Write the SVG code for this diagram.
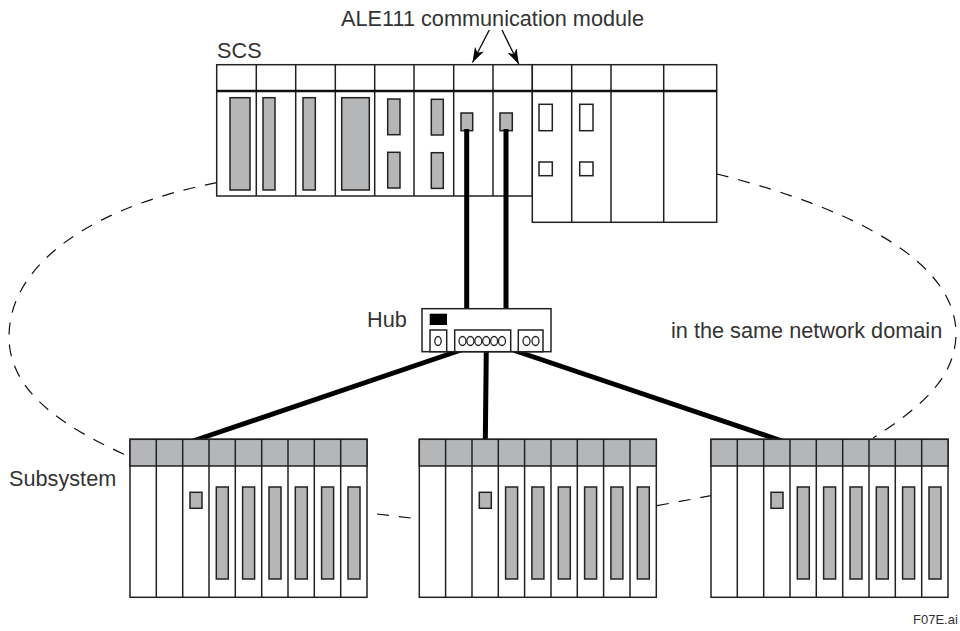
<svg xmlns="http://www.w3.org/2000/svg" xmlns:xlink="http://www.w3.org/1999/xlink" width="960" height="631" viewBox="0 0 960 631">
<style>
text{font-family:"Liberation Sans",Arial,sans-serif;font-size:21.7px;fill:#333}
.s{fill:#fff;stroke:#222;stroke-width:1.5}
.g{fill:#b5b6b8;stroke:#222;stroke-width:1.5}
.l{fill:none;stroke:#222;stroke-width:1.5}
.c{fill:none;stroke:#000;stroke-width:5}
.d{fill:none;stroke:#111;stroke-width:1.2;stroke-dasharray:12 10}
.a{fill:none;stroke:#111;stroke-width:1.4;marker-end:url(#arrow)}
.o{fill:none;stroke:#222;stroke-width:1.3}
</style>
<defs>
<marker id="arrow" markerUnits="userSpaceOnUse" markerWidth="16" markerHeight="12" refX="15" refY="6" orient="auto">
<path d="M0 1L15 6L0 11L4 6Z" fill="#000"/>
</marker>
<g id="rack">
<rect class="s" x="0" y="0" width="237" height="158"/>
<rect class="g" x="0" y="0" width="237" height="26.7"/>
<path class="l" d="M26.3 0V158M52.7 0V158M79 0V158M105.3 0V158M131.7 0V158M158 0V158M184.3 0V158M210.7 0V158"/>
<rect class="g" x="60" y="53" width="12" height="16"/>
<rect class="g" x="86.3" y="47.7" width="12" height="92"/>
<rect class="g" x="112.6" y="47.7" width="12" height="92"/>
<rect class="g" x="139" y="47.7" width="12" height="92"/>
<rect class="g" x="165.3" y="47.7" width="12" height="92"/>
<rect class="g" x="191.6" y="47.7" width="12" height="92"/>
<rect class="g" x="218" y="47.7" width="12" height="92"/>
</g>
</defs>
<rect width="960" height="631" fill="#fff"/>
<g id="scs">
<rect class="s" x="216.7" y="64.7" width="315.6" height="131.3"/>
<rect class="s" x="532.3" y="64.7" width="184.4" height="157.6"/>
<path class="l" d="M256.3 64.7V196M295.7 64.7V196M335.3 64.7V196M374.7 64.7V196M414 64.7V196M453.7 64.7V196M493 64.7V196M571.7 64.7V222.3M611 64.7V222.3M663.7 64.7V222.3"/>
<path fill="none" stroke="#111" stroke-width="2.4" d="M216.7 91H717"/>
<rect class="g" x="230" y="97.7" width="20" height="92.3"/>
<rect class="g" x="263" y="97.7" width="12" height="92.3"/>
<rect class="g" x="303" y="97.7" width="12.3" height="92.3"/>
<rect class="g" x="341.7" y="97.7" width="27.6" height="92.3"/>
<rect class="g" x="387.7" y="99" width="12.3" height="35.7"/>
<rect class="g" x="387.7" y="152.3" width="12.3" height="35.7"/>
<rect class="g" x="431.3" y="99.3" width="12" height="35.7"/>
<rect class="g" x="431.3" y="152.7" width="12" height="35.7"/>
<rect class="g" x="461" y="113" width="11.7" height="17.7"/>
<rect class="g" x="500" y="113" width="12.3" height="17.7"/>
<rect class="s" x="539" y="104.3" width="13.3" height="26.4"/>
<rect class="s" x="579.7" y="104.3" width="13.3" height="26.4"/>
<rect class="s" x="539" y="162" width="13.3" height="13.7"/>
<rect class="s" x="579.7" y="162" width="13.3" height="13.7"/>
<text x="217" y="58">SCS</text>
</g>
<g id="connectors">
<path class="c" d="M466.7 129V310M506 129V310"/>
<path class="c" d="M464 349L190 442M486.3 349L485.3 442M510 349L785 442"/>
<path class="d" d="M216.7 182.7C100 205 9 260 9 337C9 395 70 430 130 457"/>
<path class="d" d="M717 174C820 200 955 250 956 333C956 375 925 405 873 438"/>
<path class="d" d="M377 514L419 519"/>
<path class="d" d="M657 505.7L711 495.7"/>
<path class="a" d="M489.3 30L472.5 62.5"/>
<path class="a" d="M502 30L518.7 64"/>
</g>
<g id="hub">
<rect class="s" x="422" y="308.7" width="129" height="43"/>
<rect x="429.7" y="313.7" width="17.3" height="11.3" fill="#000"/>
<rect class="s" x="430" y="330" width="16.7" height="21.7"/>
<rect class="s" x="454.7" y="330" width="56" height="21.7"/>
<rect class="s" x="518.3" y="330" width="24.7" height="21.7"/>
<ellipse class="o" cx="438" cy="341" rx="3.2" ry="4.5"/>
<ellipse class="o" cx="462.5" cy="341" rx="3.5" ry="4.5"/>
<ellipse class="o" cx="470.4" cy="341" rx="3.5" ry="4.5"/>
<ellipse class="o" cx="478.3" cy="341" rx="3.5" ry="4.5"/>
<ellipse class="o" cx="486.2" cy="341" rx="3.5" ry="4.5"/>
<ellipse class="o" cx="494.1" cy="341" rx="3.5" ry="4.5"/>
<ellipse class="o" cx="502" cy="341" rx="3.5" ry="4.5"/>
<ellipse class="o" cx="526.5" cy="341" rx="3.5" ry="4.5"/>
<ellipse class="o" cx="535.5" cy="341" rx="3.5" ry="4.5"/>
<text x="367" y="327">Hub</text>
</g>
<g id="subsystem-left"><use xlink:href="#rack" href="#rack" x="130" y="439.3"/><text x="9" y="486">Subsystem</text></g>
<g id="subsystem-middle"><use xlink:href="#rack" href="#rack" x="419.3" y="439.3"/></g>
<g id="subsystem-right"><use xlink:href="#rack" href="#rack" x="711" y="439.3"/></g>
<g id="labels">
<text x="341" y="26">ALE111 communication module</text>
<text x="671" y="338">in the same network domain</text>
<text x="913" y="624" style="font-size:13px">F07E.ai</text>
</g>
</svg>
